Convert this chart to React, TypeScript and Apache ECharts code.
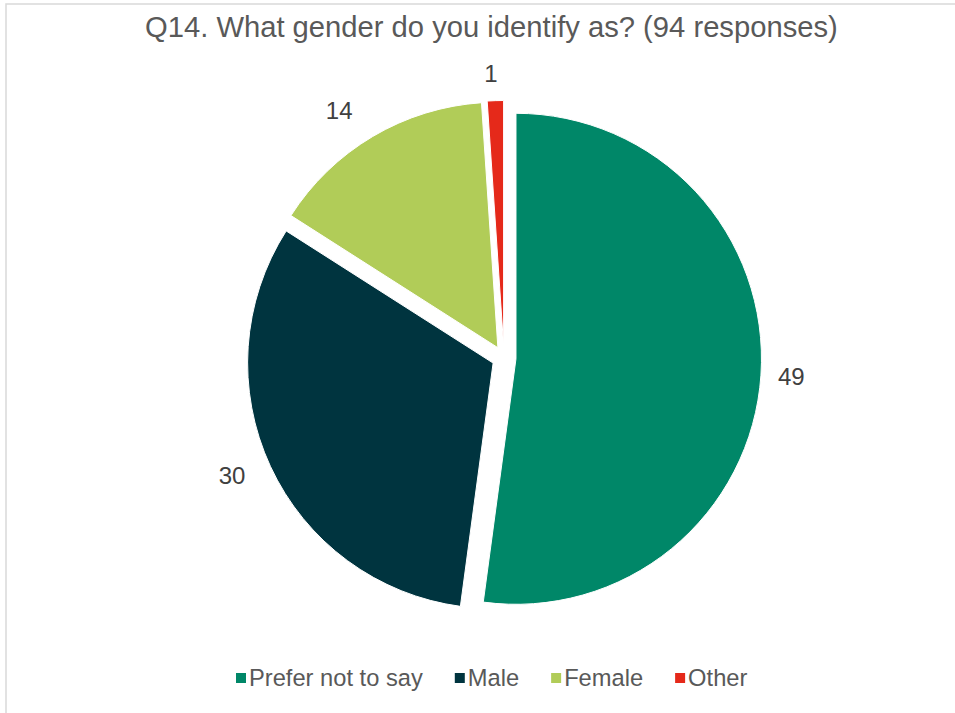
import React, { useEffect, useRef } from "react";
import * as echarts from "echarts";

const titleText = "Q14. What gender do you identify as? (94 responses)";
const categories = ["Prefer not to say", "Male", "Female", "Other"];
const values = [49, 30, 14, 1];
const colors = ["#008768", "#00343F", "#B1CC58", "#E5291A"];
const labelLineLengths = [12, 22, 30, 27];
const labelLineLengths2 = [0, 0, 0, -8];

export default function App() {
  const ref = useRef<HTMLDivElement>(null);
  useEffect(() => {
    if (!ref.current) return;
    const chart = echarts.init(ref.current, null, { renderer: "svg" });
    const font = "'Liberation Sans', Arial, sans-serif";
    chart.setOption({
      animation: false,
      backgroundColor: "#ffffff",
      textStyle: { fontFamily: font },
      title: {
        text: titleText,
        left: 145,
        top: 12,
        padding: 0,
        textStyle: { fontFamily: font, fontSize: 29.2, fontWeight: "normal", color: "#595959", lineHeight: 29 },
      },
      legend: {
        data: categories,
        left: 234,
        top: 666,
        padding: 0,
        itemWidth: 12,
        itemHeight: 12,
        itemGap: 30,
        icon: "rect",
        selectedMode: false,
        textStyle: { fontFamily: font, fontSize: 23.7, color: "#595959", padding: [0, 0, 0, -3], lineHeight: 24 },
      },
      graphic: [
        {
          type: "rect",
          shape: { x: 6, y: 4, width: 1200, height: 1200 },
          style: { fill: "none", stroke: "#D9D9D9", lineWidth: 1.5 },
          silent: true,
        },
      ],
      series: [
        {
          type: "pie",
          center: [504, 358],
          radius: [0, 245.5],
          startAngle: 90,
          clockwise: true,
          selectedMode: "multiple",
          selectedOffset: 12,
          avoidLabelOverlap: false,
          itemStyle: { borderColor: "#ffffff", borderWidth: 1 },
          label: {
            show: true,
            position: "outside",
            formatter: "{c}",
            fontFamily: font,
            fontSize: 24,
            color: "#404040",
            distanceToLabelLine: 5,
          },
          labelLine: { show: false, length: 20, length2: 0 },
          emphasis: { disabled: true },
          select: { disabled: false },
          data: categories.map((name, i) => ({
            name,
            value: values[i],
            selected: true,
            itemStyle: { color: colors[i] },
            labelLine: { show: false, length: labelLineLengths[i], length2: labelLineLengths2[i] },
          })),
        },
      ],
    });
    return () => chart.dispose();
  }, []);
  return (
    <div
      ref={ref}
      style={{ position: "absolute", left: 0, top: 0, width: 955, height: 713 }}
    />
  );
}
